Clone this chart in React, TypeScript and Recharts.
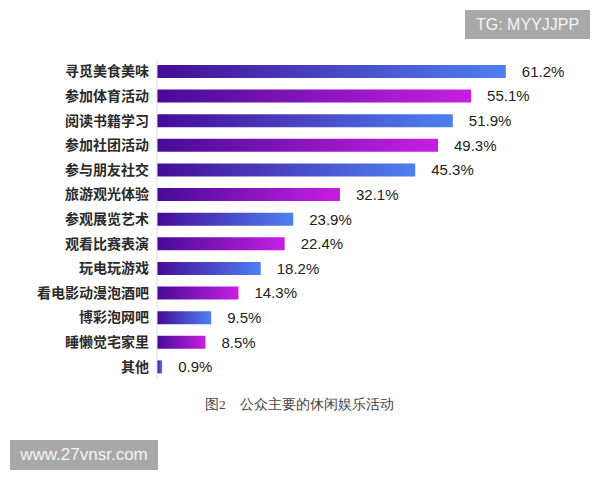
import React from "react";
import { BarChart, Bar, XAxis, YAxis, Cell, LabelList } from "recharts";

const activities = [
  "寻觅美食美味",
  "参加体育活动",
  "阅读书籍学习",
  "参加社团活动",
  "参与朋友社交",
  "旅游观光体验",
  "参观展览艺术",
  "观看比赛表演",
  "玩电玩游戏",
  "看电影动漫泡酒吧",
  "博彩泡网吧",
  "睡懒觉宅家里",
  "其他",
];

const shares = [61.2, 55.1, 51.9, 49.3, 45.3, 32.1, 23.9, 22.4, 18.2, 14.3, 9.5, 8.5, 0.9];

const data = activities.map((name, i) => ({ name, value: shares[i] }));

const labelFont = "'Liberation Sans', Arial, sans-serif";
const cjkFont = "'Noto Sans CJK SC', sans-serif";

export default function App() {
  return (
    <div style={{ position: "absolute", left: 0, top: 0, width: 600, height: 480, background: "#fff" }}>
      <BarChart
        width={600}
        height={480}
        data={data}
        layout="vertical"
        margin={{ top: 59, right: 44, bottom: 101, left: 0 }}
        barSize={13}
      >
        <defs>
          <linearGradient id="gradBlue" x1="0" y1="0" x2="1" y2="0">
            <stop offset="0%" stopColor="#460b96" />
            <stop offset="100%" stopColor="#4d80f2" />
          </linearGradient>
          <linearGradient id="gradPink" x1="0" y1="0" x2="1" y2="0">
            <stop offset="0%" stopColor="#460b96" />
            <stop offset="100%" stopColor="#c81ee2" />
          </linearGradient>
        </defs>
        <XAxis type="number" domain={[0, 70]} hide />
        <YAxis
          type="category"
          dataKey="name"
          width={157}
          interval={0}
          tickLine={false}
          axisLine={{ stroke: "#dddddd" }}
          tick={{ fontSize: 14, fill: "#2a2a2a", fontFamily: cjkFont, fontWeight: 600 }}
        />
        <Bar dataKey="value" isAnimationActive={false}>
          {data.map((d, i) => (
            <Cell key={d.name} fill={i % 2 === 0 ? "url(#gradBlue)" : "url(#gradPink)"} />
          ))}
          <LabelList
            dataKey="value"
            position="right"
            offset={16}
            formatter={(v: number) => `${v}%`}
            style={{ fontSize: 15, fill: "#222", fontFamily: labelFont }}
          />
        </Bar>
      </BarChart>

      <div
        style={{
          position: "absolute",
          left: 205,
          top: 396,
          fontSize: 13.5,
          color: "#444",
          fontFamily: "serif",
          whiteSpace: "pre",
        }}
      >
        图2　公众主要的休闲娱乐活动
      </div>

      <div
        style={{
          position: "absolute",
          left: 465,
          top: 10,
          width: 125,
          height: 29,
          background: "#a8a8a8",
          color: "#f4f4f4",
          fontFamily: labelFont,
          fontSize: 16,
          lineHeight: "29px",
          textAlign: "center",
        }}
      >
        TG: MYYJJPP
      </div>

      <div
        style={{
          position: "absolute",
          left: 10,
          top: 440,
          width: 148,
          height: 30,
          background: "#a8a8a8",
          color: "#f4f4f4",
          fontFamily: labelFont,
          fontSize: 17,
          lineHeight: "30px",
          textAlign: "center",
        }}
      >
        www.27vnsr.com
      </div>
    </div>
  );
}
